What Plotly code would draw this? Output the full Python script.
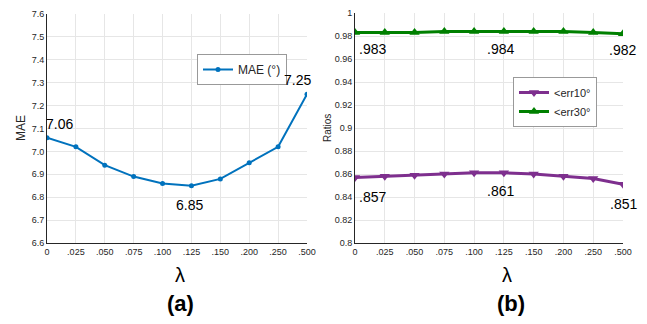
import plotly.graph_objects as go

lambdas = ["0", ".025", ".050", ".075", ".100", ".125", ".150", ".200", ".250", ".500"]
mae = [7.06, 7.02, 6.94, 6.89, 6.86, 6.85, 6.88, 6.95, 7.02, 7.25]
err10 = [0.857, 0.858, 0.859, 0.860, 0.861, 0.861, 0.860, 0.858, 0.856, 0.851]
err30 = [0.983, 0.983, 0.983, 0.984, 0.984, 0.984, 0.984, 0.984, 0.983, 0.982]

idx = list(range(len(lambdas)))
W, H = 647, 324

def px(x):
    return x / W

def py(y):
    return 1 - y / H

fig = go.Figure()
fig.add_trace(go.Scatter(x=idx, y=mae, mode="lines+markers", name="MAE (°)",
                         line=dict(color="#0072BD", width=2), marker=dict(size=5, color="#0072BD"),
                         xaxis="x", yaxis="y", legend="legend"))
fig.add_trace(go.Scatter(x=idx, y=err10, mode="lines+markers", name="<err10°",
                         line=dict(color="#7E2F8E", width=3),
                         marker=dict(symbol="triangle-down", size=9, color="#7E2F8E"),
                         xaxis="x2", yaxis="y2", legend="legend2"))
fig.add_trace(go.Scatter(x=idx, y=err30, mode="lines+markers", name="<err30°",
                         line=dict(color="#008000", width=3),
                         marker=dict(symbol="triangle-up", size=9, color="#008000"),
                         xaxis="x2", yaxis="y2", legend="legend2"))

axfont = dict(family="Arial", size=9, color="#262626")
common_x = dict(tickmode="array", tickvals=idx, ticktext=lambdas, range=[0, 9],
                showgrid=True, gridcolor="#e6e6e6", gridwidth=1, zeroline=False,
                showline=True, linecolor="#262626", linewidth=1, ticks="", tickfont=axfont,
                automargin=False)
common_y = dict(showgrid=True, gridcolor="#e6e6e6", gridwidth=1, zeroline=False,
                showline=True, linecolor="#262626", linewidth=1, ticks="", tickfont=axfont,
                automargin=False)

fig.update_layout(
    template="none",
    width=W, height=H, margin=dict(l=0, r=0, t=0, b=0, pad=0, autoexpand=False),
    paper_bgcolor="white", plot_bgcolor="white",
    xaxis=dict(domain=[px(47), px(307)], anchor="y", **common_x),
    yaxis=dict(domain=[py(243), py(14)], anchor="x", range=[6.6, 7.6], dtick=0.1,
               tickformat=".1f", **common_y),
    xaxis2=dict(domain=[px(355), px(623)], anchor="y2", **common_x),
    yaxis2=dict(domain=[py(243), py(13)], anchor="x2", range=[0.8, 1.0], dtick=0.02, **common_y),
    legend=dict(x=px(197), y=py(54), xanchor="left", yanchor="top",
                bgcolor="white", bordercolor="#999999", borderwidth=1,
                font=dict(family="Arial", size=12, color="#262626"),
                itemwidth=30, tracegroupgap=0),
    legend2=dict(x=px(513), y=py(77), xanchor="left", yanchor="top",
                 bgcolor="white", bordercolor="#999999", borderwidth=1,
                 font=dict(family="Arial", size=11, color="#262626"),
                 itemwidth=30, tracegroupgap=0),
    showlegend=True,
)

ann = []
lblfont = dict(family="Arial", size=14, color="black")
# left panel value labels
ann.append(dict(x=0, y=mae[0], xref="x", yref="y", text="7.06", showarrow=False,
                xanchor="left", yanchor="bottom", xshift=-3, yshift=4, font=lblfont))
ann.append(dict(x=9, y=mae[9], xref="x", yref="y", text="7.25", showarrow=False,
                xanchor="center", yanchor="bottom", xshift=-10, yshift=4, font=lblfont))
ann.append(dict(x=5, y=mae[5], xref="x", yref="y", text="6.85", showarrow=False,
                xanchor="center", yanchor="top", xshift=-2, yshift=-9, font=lblfont))
# right panel value labels
ann.append(dict(x=0, y=err30[0], xref="x2", yref="y2", text=".983", showarrow=False,
                xanchor="left", yanchor="top", xshift=2, yshift=-6, font=lblfont))
ann.append(dict(x=5, y=err30[5], xref="x2", yref="y2", text=".984", showarrow=False,
                xanchor="center", yanchor="top", xshift=-3, yshift=-8, font=lblfont))
ann.append(dict(x=9, y=err30[9], xref="x2", yref="y2", text=".982", showarrow=False,
                xanchor="center", yanchor="top", xshift=-1, yshift=-6, font=lblfont))
ann.append(dict(x=0, y=err10[0], xref="x2", yref="y2", text=".857", showarrow=False,
                xanchor="left", yanchor="top", xshift=2, yshift=-10, font=lblfont))
ann.append(dict(x=5, y=err10[5], xref="x2", yref="y2", text=".861", showarrow=False,
                xanchor="center", yanchor="top", xshift=-3, yshift=-8, font=lblfont))
ann.append(dict(x=9, y=err10[9], xref="x2", yref="y2", text=".851", showarrow=False,
                xanchor="center", yanchor="top", xshift=0, yshift=-10, font=lblfont))
# axis titles and panel captions
def paper_text(x, y, text, size, angle=0, color="black"):
    return dict(x=px(x), y=py(y), xref="paper", yref="paper", text=text, showarrow=False,
                xanchor="center", yanchor="middle", textangle=angle,
                font=dict(family="Arial", size=size, color=color))

ann.append(paper_text(21, 128, "MAE", 12, -90, "#262626"))
ann.append(paper_text(327, 128, "Ratios", 10, -90, "#262626"))
ann.append(paper_text(180, 275, "λ", 20))
ann.append(paper_text(507, 275, "λ", 20))
ann.append(paper_text(180, 303, "<b>(a)</b>", 22))
ann.append(paper_text(511, 303, "<b>(b)</b>", 22))
fig.update_layout(annotations=ann)

fig.write_html("out.html")
